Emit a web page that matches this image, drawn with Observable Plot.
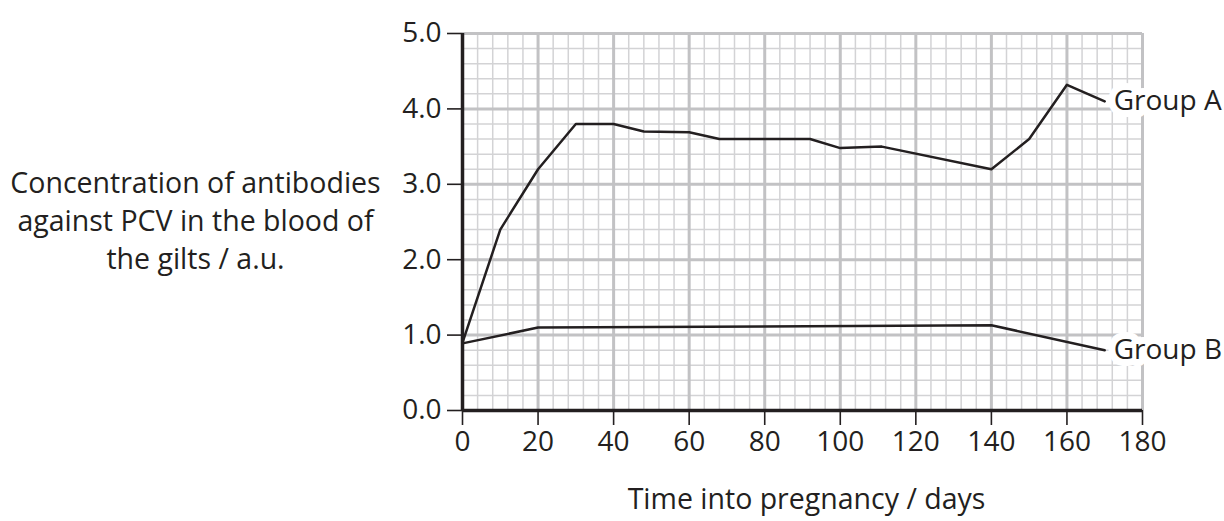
<!DOCTYPE html>
<html><head><meta charset="utf-8">
<script src="https://cdn.jsdelivr.net/npm/d3@7"></script>
<script src="https://cdn.jsdelivr.net/npm/@observablehq/plot@0.6"></script>
<style>body{margin:0;background:#fff}</style>
</head><body><div id="chart"></div>
<script>
// Group A: time into pregnancy (days) and antibody concentration (a.u.)
const daysA = [0, 10, 20, 30, 40, 48, 60, 68, 92, 100, 111, 140, 150, 160, 170];
const concA = [0.9, 2.4, 3.2, 3.8, 3.8, 3.7, 3.69, 3.6, 3.6, 3.48, 3.5, 3.2, 3.6, 4.32, 4.1];
// Group B
const daysB = [0, 20, 140, 170];
const concB = [0.89, 1.1, 1.13, 0.8];
const seriesNames = ["Group A", "Group B"];
const xTicks = [0, 20, 40, 60, 80, 100, 120, 140, 160, 180];
const yTicks = [0, 1, 2, 3, 4, 5];
const yLabel = "Concentration of antibodies\nagainst PCV in the blood of\nthe gilts / a.u.";
const xLabel = "Time into pregnancy / days";

const rowsA = daysA.map((d, i) => ({day: d, conc: concA[i], group: seriesNames[0]}));
const rowsB = daysB.map((d, i) => ({day: d, conc: concB[i], group: seriesNames[1]}));
const labelRows = [rowsA[rowsA.length - 1], rowsB[rowsB.length - 1]];
const minorX = d3.range(0, 181, 4);
const minorY = d3.range(0, 5.0001, 0.2);

const ink = "#231f20";
const chart = Plot.plot({
  width: 1224, height: 521,
  marginLeft: 462, marginRight: 82, marginTop: 33, marginBottom: 111,
  x: {domain: [0, 180]},
  y: {domain: [0, 5]},
  style: {fontFamily: "'Open Sans', sans-serif", fontSize: "28px", color: ink, background: "#fff"},
  marks: [
    Plot.gridX(minorX, {stroke: "#d3d3d5", strokeOpacity: 1, strokeWidth: 1.5}),
    Plot.gridY(minorY, {stroke: "#d3d3d5", strokeOpacity: 1, strokeWidth: 1.5}),
    Plot.gridX(xTicks, {stroke: "#c2c2c4", strokeOpacity: 1, strokeWidth: 3}),
    Plot.gridY(yTicks, {stroke: "#c2c2c4", strokeOpacity: 1, strokeWidth: 3}),
    Plot.line(rowsA, {x: "day", y: "conc", stroke: ink, strokeWidth: 2.5}),
    Plot.line(rowsB, {x: "day", y: "conc", stroke: ink, strokeWidth: 2.5}),
    Plot.text(labelRows, {x: "day", y: "conc", text: "group", textAnchor: "start", dx: 9,
      fill: ink, stroke: "white", strokeWidth: 14, fontSize: 28}),
    Plot.ruleX([0], {stroke: ink, strokeWidth: 3.5}),
    Plot.ruleY([0], {stroke: ink, strokeWidth: 3.5}),
    Plot.axisY(yTicks, {tickSize: 15, tickPadding: 6, tickFormat: d => d.toFixed(1),
      strokeWidth: 1.6, stroke: ink, fill: ink, label: null, fontSize: 28}),
    Plot.axisX(xTicks, {tickSize: 15, tickPadding: 6, strokeWidth: 1.6, stroke: ink, fill: ink,
      label: null, fontSize: 28}),
    Plot.text([yLabel], {frameAnchor: "left", dx: -267, dy: -3, textAnchor: "middle",
      lineHeight: 1.32, fill: ink, fontSize: 28.5}),
    Plot.text([xLabel], {frameAnchor: "bottom", dx: 4, dy: 98, textAnchor: "middle", fill: ink, fontSize: 28.5})
  ]
});
document.getElementById("chart").append(chart);
</script>
</body></html>
